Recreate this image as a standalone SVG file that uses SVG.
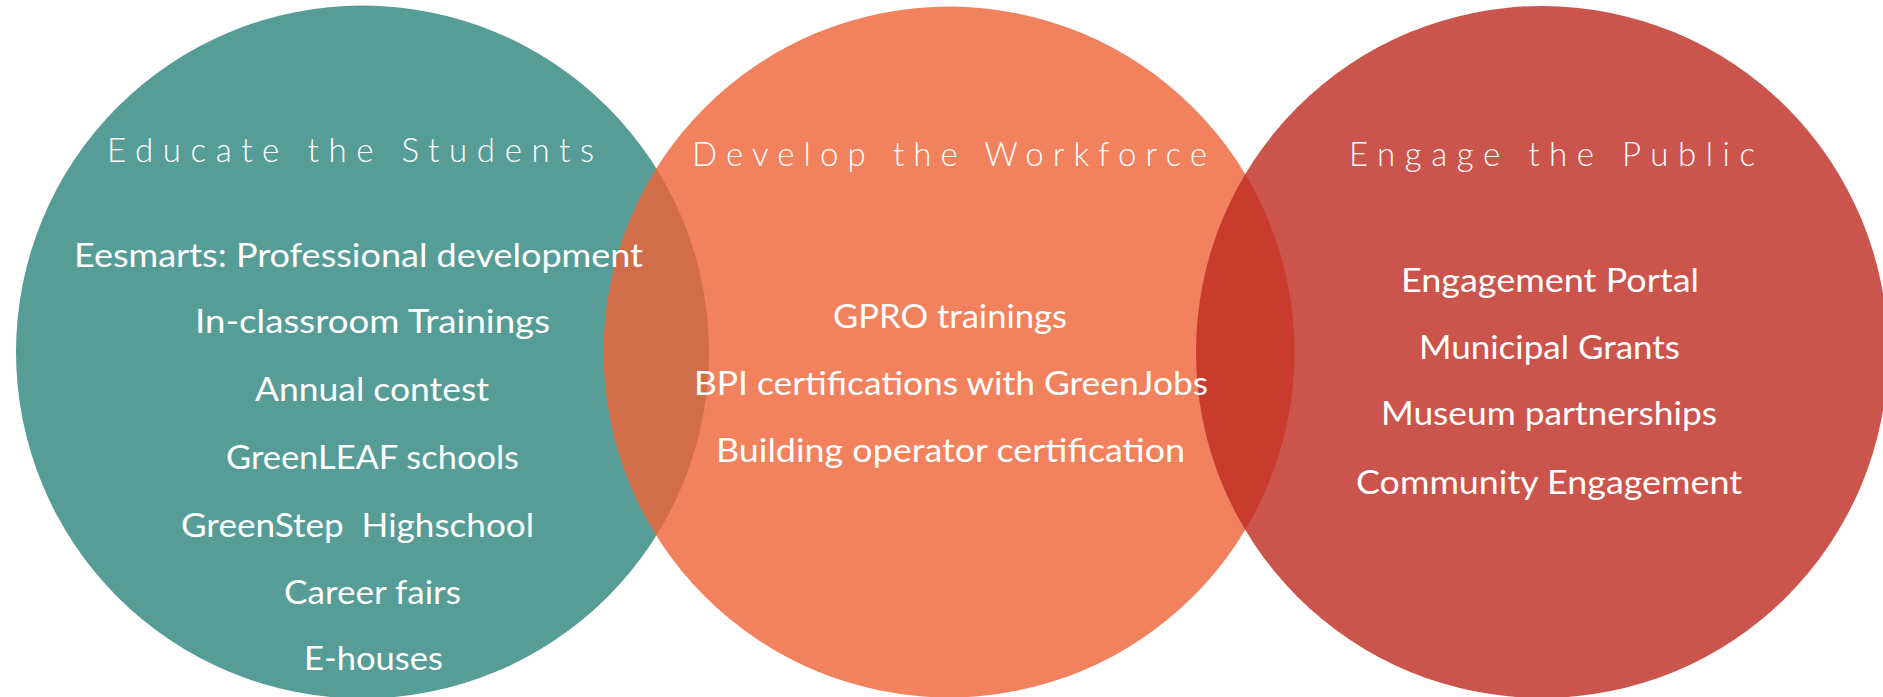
<svg xmlns="http://www.w3.org/2000/svg" width="1883" height="697" viewBox="0 0 1883 697">
<style>
.title{font-family:"Lato","Noto Sans",sans-serif;font-size:33px;font-weight:300;fill:#ffffff;text-anchor:start}
.item{font-family:"Lato","Noto Sans",sans-serif;font-size:33px;font-weight:400;fill:#ffffff;text-anchor:start}
</style>
<rect x="0" y="0" width="1883" height="697" fill="#ffffff"/>
<g id="educate">
<circle cx="362.5" cy="352" r="346.5" fill="#569D97"/>
</g>
<g id="develop">
<circle cx="949" cy="352" r="345.5" fill="#EF6336" fill-opacity="0.8"/>
</g>
<g id="engage">
<circle cx="1542" cy="352" r="346" fill="#BE291F" fill-opacity="0.8"/>
</g>
<g id="educate-text">
<text class="title" x="107" y="162" textLength="487" lengthAdjust="spacing">Educate the Students</text>
<text class="item" x="74" y="267" textLength="569" lengthAdjust="spacingAndGlyphs">Eesmarts: Professional development</text>
<text class="item" x="195" y="333" textLength="355" lengthAdjust="spacingAndGlyphs">In-classroom Trainings</text>
<text class="item" x="255" y="401" textLength="234" lengthAdjust="spacingAndGlyphs">Annual contest</text>
<text class="item" x="226" y="469" textLength="293" lengthAdjust="spacingAndGlyphs">GreenLEAF schools</text>
<text class="item" x="181" y="537" textLength="353" lengthAdjust="spacingAndGlyphs" xml:space="preserve">GreenStep  Highschool</text>
<text class="item" x="284" y="604" textLength="177" lengthAdjust="spacingAndGlyphs">Career fairs</text>
<text class="item" x="304" y="670" textLength="139" lengthAdjust="spacingAndGlyphs">E-houses</text>
</g>
<g id="develop-text">
<text class="title" x="692" y="166" textLength="515" lengthAdjust="spacing">Develop the Workforce</text>
<text class="item" x="833" y="328" textLength="234" lengthAdjust="spacingAndGlyphs">GPRO trainings</text>
<text class="item" x="694" y="395" textLength="514" lengthAdjust="spacingAndGlyphs">BPI certifications with GreenJobs</text>
<text class="item" x="716" y="462" textLength="469" lengthAdjust="spacingAndGlyphs">Building operator certification</text>
</g>
<g id="engage-text">
<text class="title" x="1349" y="166" textLength="406" lengthAdjust="spacing">Engage the Public</text>
<text class="item" x="1401" y="292" textLength="298" lengthAdjust="spacingAndGlyphs">Engagement Portal</text>
<text class="item" x="1419" y="359" textLength="261" lengthAdjust="spacingAndGlyphs">Municipal Grants</text>
<text class="item" x="1381" y="425" textLength="336" lengthAdjust="spacingAndGlyphs">Museum partnerships</text>
<text class="item" x="1356" y="494" textLength="386" lengthAdjust="spacingAndGlyphs">Community Engagement</text>
</g>
<g id="connectors"></g>
</svg>
